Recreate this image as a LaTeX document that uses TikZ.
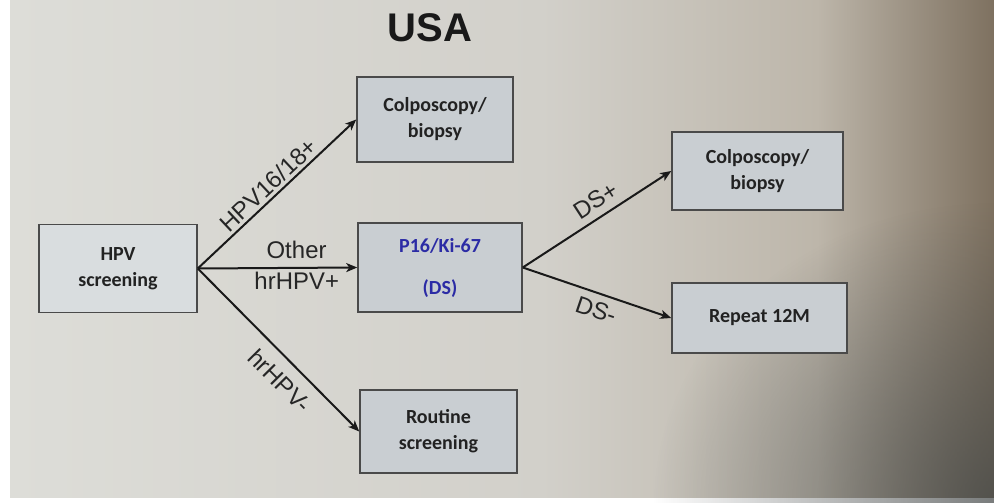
\documentclass[tikz,border=0pt]{standalone}
\usepackage{fontspec}
\setmainfont{Liberation Sans}
\newfontfamily\boxfont{Carlito}
\usetikzlibrary{arrows.meta,fadings}
\definecolor{bga}{HTML}{DDDDD8}
\definecolor{bgb}{HTML}{D2D0CA}
\definecolor{bgc}{HTML}{BDB6AA}
\definecolor{bgd}{HTML}{7E7160}
\definecolor{cornergray}{HTML}{404444}
\definecolor{boxfill}{HTML}{C9CED2}
\definecolor{boxline}{HTML}{4A4A4A}
\definecolor{boxtext}{HTML}{222222}
\definecolor{dsblue}{HTML}{2B2BA5}
\pgfdeclarehorizontalshading{slidebg}{100bp}{color(0bp)=(bga); color(25bp)=(bga); color(52bp)=(bgb); color(66bp)=(bgc); color(75bp)=(bgd); color(100bp)=(bgd)}
\tikzfading[name=cornerfade, inner color=transparent!30, outer color=transparent!100]
\tikzset{
  flowbox/.style={draw=boxline, line width=1.5pt, fill=boxfill, align=center,
    font=\boxfont\bfseries\fontsize{20}{26}\selectfont, text=boxtext, inner sep=0pt},
  flowarrow/.style={line width=2pt, black!90, -{Stealth[length=11pt,width=9pt,inset=3pt]}},
  lbl/.style={font=\fontsize{24}{28}\selectfont, text=black!85, sloped, inner sep=1pt}
}
\begin{document}
\begin{tikzpicture}[x=1pt,y=-1pt]
\useasboundingbox (0,0) rectangle (994,503);
\fill[white] (0,0) rectangle (994,503);
\shade[shading=slidebg] (10,0) rectangle (994,497);
\begin{scope}
\clip (10,0) rectangle (994,503);
\fill[cornergray, path fading=cornerfade] (994,503) ellipse (340 and 300);
\end{scope}
\node[font=\bfseries\fontsize{40}{44}\selectfont, text=black!90] (title) at (430,28) {USA};

\node[flowbox, fill=boxfill!70!white, minimum width=158pt, minimum height=88pt] (hpv) at (118,268.5) {HPV\\screening};
\node[flowbox, minimum width=156pt, minimum height=85pt] (colp1) at (435,119.5) {Colposcopy/\\biopsy};
\node[flowbox, minimum width=164pt, minimum height=89pt, text=dsblue, font=\boxfont\bfseries\fontsize{20}{42}\selectfont] (p16) at (440,267.5) {P16/Ki-67\\(DS)};
\node[flowbox, minimum width=157pt, minimum height=83pt] (routine) at (438.5,431.5) {Routine\\screening};
\node[flowbox, minimum width=171pt, minimum height=78pt] (colp2) at (757.5,171) {Colposcopy/\\biopsy};
\node[flowbox, minimum width=175pt, minimum height=70pt] (repeat) at (759.5,318) {Repeat 12M};

\draw[flowarrow] (hpv.east) -- node[lbl, above, pos=0.5, yshift=2pt] {HPV16/18+} (colp1.west);
\draw[flowarrow] (hpv.east) -- node[lbl, above, pos=0.62, yshift=7pt] {Other} node[lbl, below, pos=0.62, yshift=-2pt] {hrHPV+} (p16.west);
\draw[flowarrow] (hpv.east) -- node[lbl, below, pos=0.6, yshift=-10pt] {hrHPV-} (routine.west);
\draw[flowarrow] (p16.east) -- node[lbl, above, pos=0.55, yshift=6pt] {DS+} (colp2.west);
\draw[flowarrow] (p16.east) -- node[lbl, below, pos=0.53, yshift=-6pt] {DS-} (repeat.west);
\end{tikzpicture}
\end{document}
